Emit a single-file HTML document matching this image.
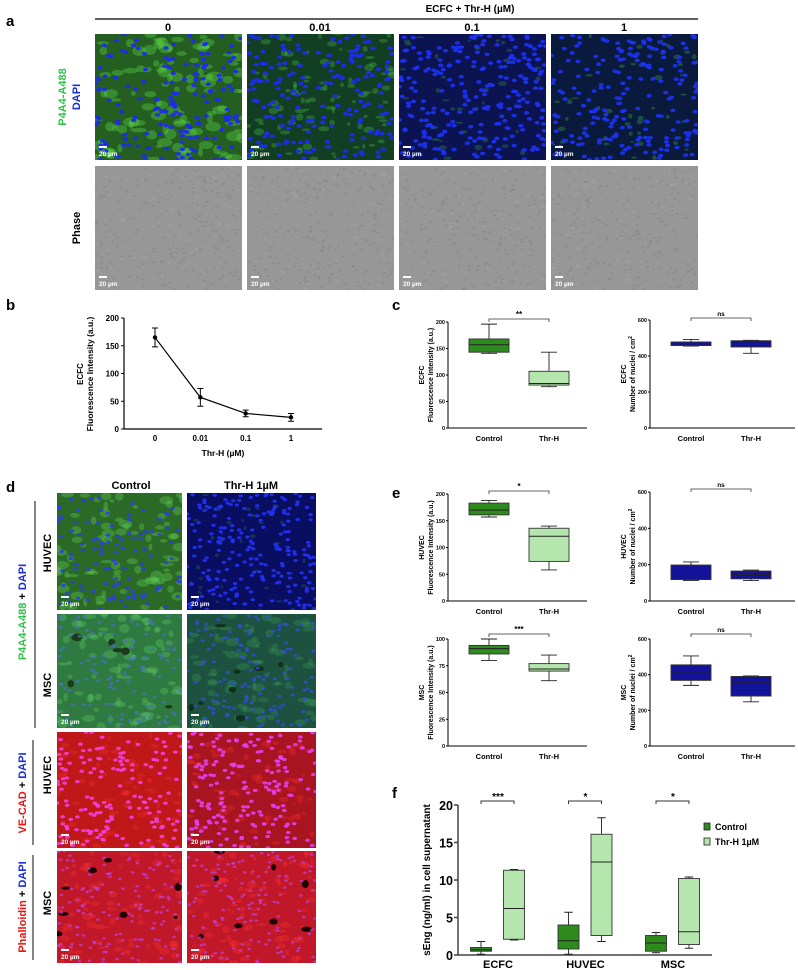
<!DOCTYPE html>
<html><head><meta charset="utf-8">
<style>
html,body{margin:0;padding:0;background:#fff}
svg{display:block;font-family:"Liberation Sans",sans-serif}
text{font-weight:bold}
</style></head>
<body>
<svg id="fig" width="798" height="970" viewBox="0 0 798 970" xmlns="http://www.w3.org/2000/svg">
<defs id="defs"></defs>
<g id="imgs"></g>
<text x="6" y="26" font-size="15">a</text>
<text x="470" y="12" font-size="10" text-anchor="middle">ECFC + Thr-H (µM)</text>
<line x1="95" y1="19" x2="698" y2="19" stroke="#000" stroke-width="1.2"/>
<text x="168" y="31" font-size="11" text-anchor="middle">0</text>
<text x="320" y="31" font-size="11" text-anchor="middle">0.01</text>
<text x="472" y="31" font-size="11" text-anchor="middle">0.1</text>
<text x="624" y="31" font-size="11" text-anchor="middle">1</text>
<text transform="translate(66,97) rotate(-90)" font-size="11" text-anchor="middle" fill="#2fc24a">P4A4-A488</text>
<text transform="translate(80,97) rotate(-90)" font-size="11" text-anchor="middle" fill="#1a2ae0">DAPI</text>
<text transform="translate(80,228) rotate(-90)" font-size="11" text-anchor="middle">Phase</text>

<text x="6" y="492" font-size="15">d</text>
<text x="131" y="489" font-size="11" text-anchor="middle">Control</text>
<text x="251" y="489" font-size="11" text-anchor="middle">Thr-H 1µM</text>
<line x1="35" y1="501" x2="35" y2="728" stroke="#333" stroke-width="1.2"/>
<line x1="33" y1="740" x2="33" y2="845" stroke="#333" stroke-width="1.2"/>
<line x1="33" y1="855" x2="33" y2="960" stroke="#333" stroke-width="1.2"/>
<text transform="translate(51,553) rotate(-90)" font-size="11" text-anchor="middle">HUVEC</text>
<text transform="translate(51,685) rotate(-90)" font-size="11" text-anchor="middle">MSC</text>
<text transform="translate(51,775) rotate(-90)" font-size="11" text-anchor="middle">HUVEC</text>
<text transform="translate(51,903) rotate(-90)" font-size="11" text-anchor="middle">MSC</text>
<text transform="translate(26,612) rotate(-90)" font-size="11" text-anchor="middle"><tspan fill="#2fc24a">P4A4-A488</tspan><tspan fill="#000"> + </tspan><tspan fill="#1a2ae0">DAPI</tspan></text>
<text transform="translate(26,793) rotate(-90)" font-size="11" text-anchor="middle"><tspan fill="#f01010">VE-CAD</tspan><tspan fill="#000"> + </tspan><tspan fill="#1a2ae0">DAPI</tspan></text>
<text transform="translate(26,907) rotate(-90)" font-size="11" text-anchor="middle"><tspan fill="#f01010">Phalloidin</tspan><tspan fill="#000"> + </tspan><tspan fill="#1a2ae0">DAPI</tspan></text>

<text x="6" y="310" font-size="15">b</text>
<g id="plotB"></g>
<text x="392" y="310" font-size="15">c</text>
<text x="392" y="498" font-size="15">e</text>
<text x="392" y="798" font-size="15">f</text>
<g id="plots"></g>
</svg>
<script>
// ---------- chart data ----------
const bCats = ["0","0.01","0.1","1"];
const bMeans = [165, 57, 28, 21];
const bErr = [17, 16, 6, 7];
const bTicks = [0, 50, 100, 150, 200];

const groupLabels = ["Control","Thr-H"];
const cFluor = [[141,143,157,168,196],[78,81,84,107,143]];
const cNuclei = [[455,458,468,478,492],[415,450,470,485,487]];
const eHuvecFluor = [[157,161,170,183,188],[58,74,121,136,140]];
const eHuvecNuclei = [[113,118,140,198,215],[113,122,145,165,170]];
const eMscFluor = [[80,86,91,94,100],[61,70,72,77,85]];
const eMscNuclei = [[340,368,415,455,505],[248,280,358,390,393]];
const fluorTicks200 = [0,50,100,150,200];
const fluorTicks100 = [0,25,50,75,100];
const nucleiTicks = [0,200,400,600];

const fCats = ["ECFC","HUVEC","MSC"];
const fControl = [[0.1,0.5,0.7,1.0,1.8],[0.1,0.8,1.9,4.0,5.7],[0.3,0.5,1.6,2.6,3.0]];
const fThr = [[2.0,2.1,6.2,11.3,11.4],[1.8,2.6,12.4,16.1,18.3],[0.9,1.4,3.1,10.2,10.4]];
const fSig = ["***","*","*"];
const fTicks = [0,5,10,15,20];

const NS="http://www.w3.org/2000/svg";
function el(parent,tag,attrs,txt){const e=document.createElementNS(NS,tag);for(const k in attrs)e.setAttribute(k,attrs[k]);if(txt!==undefined)e.textContent=txt;parent.appendChild(e);return e;}

// ---------- micrographs (texture) ----------
let seed=12345;
function rnd(){seed|=0;seed=seed+0x6D2B79F5|0;let t=Math.imul(seed^seed>>>15,1|seed);t=t+Math.imul(t^t>>>7,61|t)^t;return((t^t>>>14)>>>0)/4294967296;}
const imgs=document.getElementById('imgs');
const defs=document.getElementById('defs');
let cid=0;
function micro(x,y,w,h,s,name){
  const id='cp'+(cid++);
  const cp=el(defs,'clipPath',{id:id});el(cp,'rect',{x:x,y:y,width:w,height:h});
  const g=el(imgs,'g',{'clip-path':'url(#'+id+')'});
  
  
  el(g,'rect',{x:x,y:y,width:w,height:h,fill:s.bg});
  const nb=Math.round(w*h/1000*s.blobD);
  for(let i=0;i<nb;i++){el(g,'ellipse',{cx:x+rnd()*w,cy:y+rnd()*h,rx:s.blobR*(0.4+rnd()),ry:s.blobR*(0.3+rnd()*0.6),fill:s.blob,opacity:s.blobO});}
  if(s.hole){for(let i=0;i<s.hole;i++){el(g,'ellipse',{cx:x+rnd()*w,cy:y+rnd()*h,rx:2+rnd()*4,ry:1.5+rnd()*3,fill:s.holeC||'#000'});}}
  const nn=Math.round(w*h/1000*s.nucD);
  for(let i=0;i<nn;i++){el(g,'ellipse',{cx:x+rnd()*w,cy:y+rnd()*h,rx:s.nucR,ry:s.nucR*0.7,fill:s.nuc,opacity:s.nucO});}
  el(g,'rect',{x:x+4,y:y+h-14,width:8,height:2,fill:'#fff'});
  el(g,'text',{x:x+4,y:y+h-4,'font-size':6.5,fill:'#fff'},'20 µm');
}
const S={
 g0:{bg:'#245e20',blob:'#5ee04a',blobO:0.35,blobR:6,blobD:6,nuc:'#1c2cf0',nucD:9,nucR:2.6,nucO:0.95},
 g1:{bg:'#123e24',blob:'#4ed04a',blobO:0.3,blobR:4,blobD:5,nuc:'#1c2cf0',nucD:10,nucR:2.6,nucO:0.95},
 g2:{bg:'#0b1450',blob:'#45c04a',blobO:0.25,blobR:3,blobD:2,nuc:'#1c30f0',nucD:13,nucR:2.6,nucO:0.95},
 g3:{bg:'#0a1a3c',blob:'#45c04a',blobO:0.3,blobR:3,blobD:2.5,nuc:'#1c30f0',nucD:11,nucR:2.6,nucO:0.95},
 ph:{bg:'#979797',blob:'#adadad',blobO:0.3,blobR:2,blobD:4,nuc:'#858585',nucD:12,nucR:1.5,nucO:0.5},
 dg1:{bg:'#2b6a26',blob:'#6ae060',blobO:0.3,blobR:5,blobD:6,nuc:'#2a40e0',nucD:8,nucR:2.2,nucO:0.9},
 db1:{bg:'#0a0e60',blob:'#38a040',blobO:0.25,blobR:2.5,blobD:2.5,nuc:'#2230f0',nucD:14,nucR:2.2,nucO:0.95},
 dg2:{bg:'#2f7a40',blob:'#64d46a',blobO:0.3,blobR:5,blobD:6,nuc:'#4a70c8',nucD:8,nucR:2,nucO:0.7,hole:6,holeC:'#1a3a1a'},
 dg3:{bg:'#1d5240',blob:'#3ca055',blobO:0.3,blobR:5,blobD:5,nuc:'#3050d8',nucD:9,nucR:2,nucO:0.8,hole:8,holeC:'#10301a'},
 r1:{bg:'#c01818',blob:'#f02a2a',blobO:0.35,blobR:4,blobD:5,nuc:'#f040e0',nucD:11,nucR:2.3,nucO:0.9},
 r2:{bg:'#a81420',blob:'#f02a2a',blobO:0.35,blobR:4,blobD:5,nuc:'#e040f0',nucD:12,nucR:2.3,nucO:0.9},
 r3:{bg:'#c01828',blob:'#f83030',blobO:0.35,blobR:4,blobD:6,nuc:'#c040e0',nucD:10,nucR:1.8,nucO:0.7,hole:8,holeC:'#200000'},
};
const aX=[95,247,399,551];
['g0','g1','g2','g3'].forEach((k,i)=>micro(aX[i],34,147,126,S[k],'a-fluor-'+i));
[0,1,2,3].forEach(i=>micro(aX[i],166,147,124,S.ph,'a-phase-'+i));
const dRows=[[493,117,'dg1','db1'],[614,114,'dg2','dg3'],[732,116,'r1','r2'],[851,112,'r3','r3']];
dRows.forEach((r,i)=>{micro(57,r[0],125,r[1],S[r[2]],'d-control-'+i);micro(187,r[0],129,r[1],S[r[3]],'d-thrh-'+i);});

// ---------- panel b ----------
const pb=document.getElementById('plotB');
const bX0=124,bX1=322,bY0=429,bYtop=318;
const bx=i=>155+i*((291-155)/3);
const by=v=>bY0-v*(bY0-bYtop)/200;
el(pb,'line',{x1:bX0,y1:bYtop,x2:bX0,y2:bY0,stroke:'#000','stroke-width':1.2});
el(pb,'line',{x1:bX0,y1:bY0,x2:bX1,y2:bY0,stroke:'#000','stroke-width':1.2});
bTicks.forEach(t=>{el(pb,'line',{x1:bX0-3,y1:by(t),x2:bX0,y2:by(t),stroke:'#000'});
  const tx=el(pb,'text',{x:bX0-5,y:by(t)+3,'font-size':8,'text-anchor':'end'},t);
  
  });
bCats.forEach((c,i)=>{const tx=el(pb,'text',{x:bx(i),y:bY0+12,'font-size':8,'text-anchor':'middle'},c);
  
  });
el(pb,'text',{x:223,y:456,'font-size':8.5,'text-anchor':'middle'},'Thr-H (µM)');
el(pb,'text',{transform:'translate(83,374) rotate(-90)','font-size':8,'text-anchor':'middle'},'ECFC');
el(pb,'text',{transform:'translate(93,374) rotate(-90)','font-size':8.5,'text-anchor':'middle'},'Fluorescence Intensity (a.u.)');
const line=el(pb,'polyline',{points:bMeans.map((v,i)=>bx(i)+','+by(v)).join(' '),fill:'none',stroke:'#000','stroke-width':1.2});


bMeans.forEach((v,i)=>{
  const eb=el(pb,'path',{d:`M${bx(i)},${by(v-bErr[i])}V${by(v+bErr[i])}M${bx(i)-3},${by(v-bErr[i])}h6M${bx(i)-3},${by(v+bErr[i])}h6`,stroke:'#000',fill:'none'});
  
  
  const pt=el(pb,'circle',{cx:bx(i),cy:by(v),r:2.2,fill:'#000'});
  
  
});

// ---------- box plots ----------
const pl=document.getElementById('plots');
function box(cx,w,st,ys,fill,name){
  const g=el(pl,'g',{});
  
  
  el(g,'path',{d:`M${cx},${ys(st[0])}V${ys(st[4])}M${cx-w*0.2},${ys(st[0])}h${w*0.4}M${cx-w*0.2},${ys(st[4])}h${w*0.4}`,stroke:'#222',fill:'none','stroke-width':0.9});
  el(g,'rect',{x:cx-w/2,y:ys(st[3]),width:w,height:Math.max(0.5,ys(st[1])-ys(st[3])),fill:fill,stroke:'#333','stroke-width':0.9});
  el(g,'line',{x1:cx-w/2,y1:ys(st[2]),x2:cx+w/2,y2:ys(st[2]),stroke:'#222','stroke-width':1});
}
function smallPlot(o){
  const ys=v=>o.y0-v*(o.y0-o.ytop)/o.max;
  el(pl,'line',{x1:o.ax,y1:o.ytop,x2:o.ax,y2:o.y0,stroke:'#000','stroke-width':1});
  el(pl,'line',{x1:o.ax,y1:o.y0,x2:o.xend,y2:o.y0,stroke:'#000','stroke-width':1});
  o.ticks.forEach(t=>{el(pl,'line',{x1:o.ax-2,y1:ys(t),x2:o.ax,y2:ys(t),stroke:'#000'});
    const tx=el(pl,'text',{x:o.ax-3,y:ys(t)+2,'font-size':5.5,'text-anchor':'end'},t);
    
    });
  const cxs=[o.ax+41,o.ax+101];
  o.data.forEach((st,i)=>box(cxs[i],40,st,ys,o.fills[i],o.name+'-box-'+i));
  groupLabels.forEach((l,i)=>{const tx=el(pl,'text',{x:cxs[i],y:o.y0+13,'font-size':7.5,'text-anchor':'middle'},l);
    
    });
  const by2=o.sigY;
  el(pl,'path',{d:`M${cxs[0]},${by2+3}V${by2}H${cxs[1]}V${by2+3}`,stroke:'#333',fill:'none','stroke-width':0.8});
  el(pl,'text',{x:(cxs[0]+cxs[1])/2,y:by2-2,'font-size':o.sig=='ns'?6.5:8,'text-anchor':'middle'},o.sig);
  el(pl,'text',{transform:`translate(${o.ax-24},${(o.y0+o.ytop)/2}) rotate(-90)`,'font-size':7,'text-anchor':'middle'},o.t1);
  const t2=el(pl,'text',{transform:`translate(${o.ax-15},${(o.y0+o.ytop)/2}) rotate(-90)`,'font-size':7,'text-anchor':'middle'},o.t2);
  if(o.sup){el(t2,'tspan',{'font-size':5,dy:-3},'2');}
}
const G='#2f8a1e',LG='#b4e6ae',B='#12129a';
smallPlot({name:'c-fluor',ax:448,xend:587,y0:428,ytop:322,max:200,ticks:fluorTicks200,data:cFluor,fills:[G,LG],sigY:319,sig:'**',t1:'ECFC',t2:'Fluorescence Intensity (a.u.)'});
smallPlot({name:'c-nuclei',ax:650,xend:795,y0:428,ytop:320,max:600,ticks:nucleiTicks,data:cNuclei,fills:[B,B],sigY:318,sig:'ns',t1:'ECFC',t2:'Number of nuclei / cm',sup:1});
smallPlot({name:'e-huvec-fluor',ax:448,xend:587,y0:601,ytop:494,max:200,ticks:fluorTicks200,data:eHuvecFluor,fills:[G,LG],sigY:491,sig:'*',t1:'HUVEC',t2:'Fluorescence Intensity (a.u.)'});
smallPlot({name:'e-huvec-nuclei',ax:650,xend:795,y0:601,ytop:492,max:600,ticks:nucleiTicks,data:eHuvecNuclei,fills:[B,B],sigY:489,sig:'ns',t1:'HUVEC',t2:'Number of nuclei / cm',sup:1});
smallPlot({name:'e-msc-fluor',ax:448,xend:587,y0:746,ytop:639,max:100,ticks:fluorTicks100,data:eMscFluor,fills:[G,LG],sigY:634,sig:'***',t1:'MSC',t2:'Fluorescence Intensity (a.u.)'});
smallPlot({name:'e-msc-nuclei',ax:650,xend:795,y0:746,ytop:639,max:600,ticks:nucleiTicks,data:eMscNuclei,fills:[B,B],sigY:634,sig:'ns',t1:'MSC',t2:'Number of nuclei / cm',sup:1});

// ---------- panel f ----------
const fAx=458,fXend=712,fY0=955,fYtop=805;
const fy=v=>fY0-v*(fY0-fYtop)/20;
const fCenter=i=>498+i*87.5;
el(pl,'line',{x1:fAx,y1:fYtop,x2:fAx,y2:fY0,stroke:'#444','stroke-width':1.5});
el(pl,'line',{x1:fAx,y1:fY0,x2:fXend,y2:fY0,stroke:'#444','stroke-width':1.5});
fTicks.forEach(t=>{el(pl,'line',{x1:fAx-4,y1:fy(t),x2:fAx,y2:fy(t),stroke:'#444','stroke-width':1.5});
  const tx=el(pl,'text',{x:fAx-5,y:fy(t)+5,'font-size':12.5,'text-anchor':'end'},t);
  
  });
fCats.forEach((c,i)=>{
  const cx=fCenter(i);
  box(cx-17,21,fControl[i],fy,G,'f-control-'+c);
  box(cx+16,21,fThr[i],fy,LG,'f-thrh-'+c);
  const tx=el(pl,'text',{x:cx,y:968,'font-size':11,'text-anchor':'middle'},c);
  
  
  el(pl,'path',{d:`M${cx-17},${804}V${801}H${cx+16}V${804}`,stroke:'#333',fill:'none','stroke-width':1});
  el(pl,'text',{x:cx,y:800,'font-size':10,'text-anchor':'middle'},fSig[i]);
});
el(pl,'text',{transform:'translate(430,880) rotate(-90)','font-size':10,'text-anchor':'middle'},'sEng (ng/ml) in cell supernatant');
const lg1=el(pl,'rect',{x:704,y:823,width:6,height:7,fill:G,stroke:'#222','stroke-width':0.8});


el(pl,'text',{x:715,y:830,'font-size':9},'Control');
const lg2=el(pl,'rect',{x:704,y:838,width:6,height:7,fill:LG,stroke:'#222','stroke-width':0.8});


el(pl,'text',{x:715,y:845,'font-size':9},'Thr-H 1µM');
</script>
</body></html>
